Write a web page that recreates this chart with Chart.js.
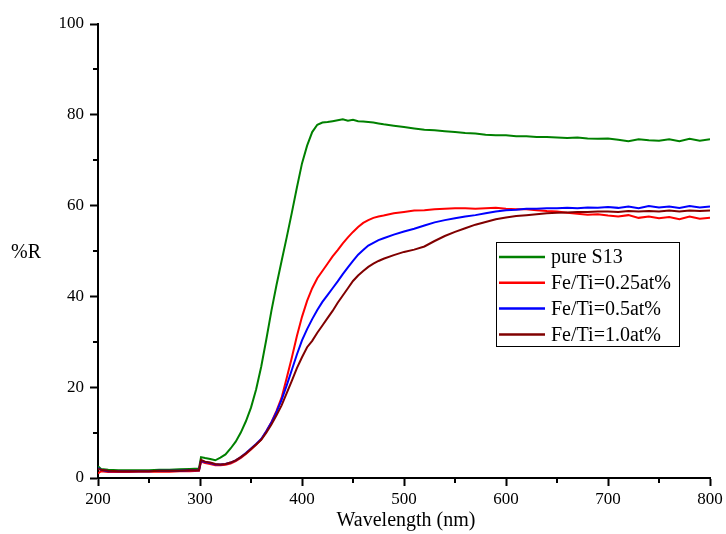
<!DOCTYPE html>
<html>
<head>
<meta charset="utf-8">
<script src="https://cdn.jsdelivr.net/npm/chart.js@4.4.1/dist/chart.umd.min.js"></script>
<style>
  html, body { margin: 0; padding: 0; background: #fff; }
  #wrap { width: 726px; height: 534px; }
</style>
</head>
<body>
<div id="wrap"><canvas id="chart" width="726" height="534"></canvas></div>
<script>
// wavelength (nm)
const wavelengths = [200,203,210,220,230,240,250,260,270,280,290,299,301,305,310,315,
  320,325,330,335,340,345,350,355,360,365,370,375,380,385,390,395,400,405,410,415,
  420,425,430,435,440,445,450,455,460,465,470,475,480,
  490,500,510,520,530,540,550,560,570,580,590,600,610,620,630,640,650,660,670,680,690,700,
  710,720,730,740,750,760,770,780,790,800];

// %R
const pureS13 = [2.6,2.0,1.8,1.7,1.7,1.7,1.7,1.8,1.8,1.9,2.0,2.1,4.6,4.4,4.2,3.9,
  4.5,5.2,6.5,8.0,10.0,12.5,15.5,19.5,24.5,30.5,36.8,42.5,47.8,53.0,58.4,64.0,69.3,73.2,76.2,77.8,
  78.3,78.4,78.6,78.8,79.0,78.7,78.9,78.6,78.5,78.4,78.3,78.1,77.9,
  77.6,77.3,77.0,76.7,76.6,76.4,76.2,76.0,75.9,75.6,75.5,75.5,75.3,75.3,75.1,75.1,75.0,74.9,75.0,74.8,74.7,74.8,
  74.5,74.2,74.6,74.4,74.3,74.6,74.2,74.7,74.3,74.6];

const fe025 = [1.0,1.5,1.3,1.3,1.3,1.4,1.4,1.4,1.4,1.5,1.5,1.6,3.6,3.3,3.1,2.8,
  2.8,2.9,3.2,3.7,4.4,5.3,6.3,7.3,8.5,10.3,12.3,14.8,17.7,22.0,26.5,31.3,35.5,39.0,41.8,44.0,
  45.6,47.2,48.8,50.2,51.7,53.0,54.2,55.3,56.2,56.8,57.3,57.6,57.8,
  58.3,58.6,58.9,59.0,59.2,59.3,59.4,59.4,59.3,59.4,59.5,59.3,59.2,59.2,59.0,58.8,58.7,58.4,58.2,58.0,58.1,57.8,
  57.6,57.9,57.3,57.6,57.2,57.5,57.0,57.6,57.1,57.3];

const fe05 = [2.2,1.8,1.5,1.5,1.5,1.5,1.5,1.6,1.6,1.6,1.7,1.7,3.8,3.5,3.3,3.0,
  3.0,3.1,3.4,3.9,4.6,5.5,6.5,7.5,8.6,10.3,12.2,14.5,17.2,20.4,23.8,27.2,30.3,32.8,35.0,37.0,
  38.8,40.3,41.8,43.3,44.9,46.4,47.8,49.2,50.2,51.2,51.8,52.4,52.8,
  53.6,54.3,54.9,55.6,56.3,56.8,57.2,57.6,57.9,58.3,58.7,59.0,59.1,59.3,59.3,59.4,59.4,59.5,59.4,59.6,59.5,59.7,
  59.5,59.8,59.4,59.9,59.6,59.8,59.5,59.9,59.6,59.8];

const fe10 = [2.0,1.8,1.6,1.5,1.5,1.5,1.5,1.6,1.6,1.6,1.7,1.7,4.0,3.6,3.4,3.1,
  3.0,3.1,3.4,3.9,4.6,5.4,6.4,7.4,8.4,10.0,11.8,13.8,16.0,18.7,21.4,24.2,26.6,28.8,30.2,32.0,
  33.6,35.2,36.8,38.6,40.2,41.8,43.4,44.6,45.6,46.5,47.2,47.8,48.3,
  49.1,49.8,50.3,51.0,52.2,53.3,54.2,55.0,55.8,56.4,57.0,57.4,57.7,57.9,58.1,58.3,58.4,58.5,58.6,58.6,58.7,58.7,
  58.6,58.8,58.7,58.8,58.7,58.9,58.7,58.9,58.8,58.9];

const seriesNames = ['pure S13', 'Fe/Ti=0.25at%', 'Fe/Ti=0.5at%', 'Fe/Ti=1.0at%'];
const seriesColors = ['#008000', '#ff0000', '#0000ff', '#800000'];
const seriesValues = [pureS13, fe025, fe05, fe10];

const FONT = '"Liberation Serif", "Times New Roman", serif';

function toPoints(vals) {
  return vals.map(function(v, i) { return { x: wavelengths[i], y: v }; });
}

// minor ticks, axis titles and boxed legend
const extrasPlugin = {
  id: 'extras',
  afterDraw: function(chart) {
    const ctx = chart.ctx;
    const xs = chart.scales.x, ys = chart.scales.y;
    const area = chart.chartArea;
    ctx.save();
    ctx.strokeStyle = '#000';
    ctx.lineWidth = 2;
    ctx.beginPath();
    for (let v = 250; v < 800; v += 100) {
      const px = Math.round(xs.getPixelForValue(v));
      ctx.moveTo(px, area.bottom);
      ctx.lineTo(px, area.bottom + 5);
    }
    for (let v = 10; v < 100; v += 20) {
      const py = Math.round(ys.getPixelForValue(v));
      ctx.moveTo(area.left, py);
      ctx.lineTo(area.left - 5, py);
    }
    ctx.stroke();

    // axis titles
    ctx.fillStyle = '#000';
    ctx.font = '20px ' + FONT;
    ctx.textAlign = 'center';
    ctx.textBaseline = 'alphabetic';
    ctx.fillText('Wavelength (nm)', 406, 526);
    ctx.textAlign = 'left';
    ctx.textBaseline = 'middle';
    ctx.fillText('%R', 11, 253);

    // legend
    const lx = 496, ly = 242, lw = 183, lh = 104;
    ctx.fillStyle = '#fff';
    ctx.fillRect(lx, ly, lw, lh);
    ctx.lineWidth = 1;
    ctx.strokeRect(lx + 0.5, ly + 0.5, lw, lh);
    ctx.font = '20px ' + FONT;
    seriesNames.forEach(function(name, i) {
      const cy = ly + 15 + i * 25.8;
      ctx.strokeStyle = seriesColors[i];
      ctx.lineWidth = 2.5;
      ctx.beginPath();
      ctx.moveTo(lx + 3, cy);
      ctx.lineTo(lx + 49, cy);
      ctx.stroke();
      ctx.fillStyle = '#000';
      ctx.fillText(name, lx + 55, cy + 1);
    });
    ctx.restore();
  }
};

new Chart(document.getElementById('chart'), {
  type: 'line',
  data: {
    datasets: seriesValues.map(function(vals, i) {
      return {
        label: seriesNames[i],
        data: toPoints(vals),
        borderColor: seriesColors[i],
        backgroundColor: seriesColors[i],
        borderWidth: 2,
        pointRadius: 0,
        tension: 0,
        order: 4 - i
      };
    })
  },
  options: {
    responsive: false,
    animation: false,
    layout: { padding: { left: 0, right: 16, top: 24, bottom: 0 } },
    plugins: {
      legend: { display: false },
      tooltip: { enabled: false }
    },
    scales: {
      x: {
        type: 'linear',
        min: 200,
        max: 800,
        afterFit: function(scale) { scale.height = 56; },
        ticks: {
          stepSize: 50,
          padding: 3,
          color: '#000',
          font: { family: FONT, size: 17 },
          callback: function(v) { return v % 100 === 0 ? String(v) : ''; }
        },
        grid: {
          drawOnChartArea: false,
          drawTicks: true,
          tickLength: 8,
          tickWidth: 2,
          tickColor: function(c) { return c.tick && c.tick.value % 100 === 0 ? '#000' : 'rgba(0,0,0,0)'; }
        },
        border: { display: true, color: '#000', width: 2 }
      },
      y: {
        min: 0,
        max: 100,
        afterFit: function(scale) { scale.width = 98; },
        ticks: {
          stepSize: 10,
          padding: 6,
          color: '#000',
          font: { family: FONT, size: 17 },
          callback: function(v) { return v % 20 === 0 ? String(v) : ''; }
        },
        grid: {
          drawOnChartArea: false,
          drawTicks: true,
          tickLength: 8,
          tickWidth: 2,
          tickColor: function(c) { return c.tick && c.tick.value % 20 === 0 ? '#000' : 'rgba(0,0,0,0)'; }
        },
        border: { display: true, color: '#000', width: 2 }
      }
    }
  },
  plugins: [extrasPlugin]
});
</script>
</body>
</html>
